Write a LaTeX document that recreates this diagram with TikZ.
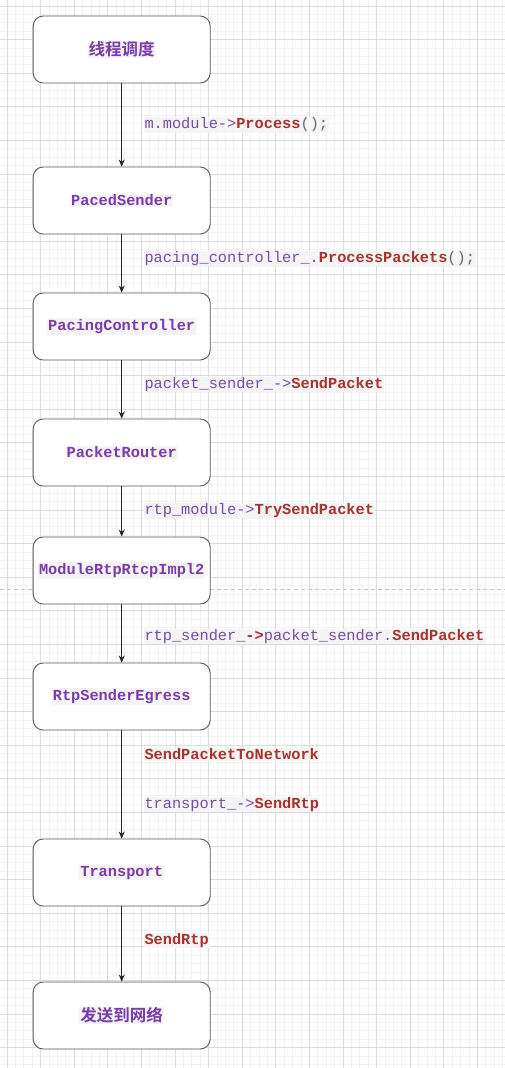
\documentclass[tikz,border=0pt]{standalone}
\usepackage{fontspec}
\setmonofont{Liberation Mono}
\newfontfamily\cjk{Noto Sans CJK SC}[BoldFont={Noto Sans CJK SC Bold}]
\usetikzlibrary{arrows.meta}
\definecolor{purp}{HTML}{7A4AA8}
\definecolor{npurp}{HTML}{7B3AAE}
\definecolor{mred}{HTML}{A8322D}
\definecolor{pgray}{HTML}{666A70}
\definecolor{hl}{HTML}{F4F4F4}
\definecolor{minorg}{HTML}{F2F2F2}
\definecolor{majorg}{HTML}{DCDCDC}
\definecolor{boxline}{HTML}{5A5A5A}
\setlength{\fboxsep}{1bp}
\newcommand{\fn}[1]{\textcolor{mred}{\bfseries #1}}
\newcommand{\pl}[1]{\textcolor{purp}{#1}}
\newcommand{\pg}[1]{\textcolor{pgray}{#1}}
\begin{document}
\begin{tikzpicture}[x=1bp,y=-1bp,
  stepbox/.style={draw=boxline,line width=0.9bp,rounded corners=10bp,fill=white,
    minimum width=177bp,minimum height=67bp,inner sep=0pt,
    text=npurp,font=\fontsize{15.3bp}{18bp}\ttfamily\bfseries},
  cjkbox/.style={stepbox,font=\fontsize{16.5bp}{19bp}\cjk\bfseries},
  elabel/.style={anchor=west,fill=hl,inner sep=0.8bp,font=\fontsize{15.3bp}{18bp}\ttfamily},
  conn/.style={draw=black!85,line width=0.9bp,-{Stealth[length=7bp,width=6bp]}}
]
\useasboundingbox (0,0) rectangle (505,1068);
\fill[white] (0,0) rectangle (505,1068);
% grid
\foreach \i in {0,...,60} {
  \pgfmathsetmacro\xx{7+8.4*(\i-1)}
  \draw[minorg,line width=0.8bp] (\xx,0) -- (\xx,1068);
}
\foreach \i in {0,...,128} {
  \pgfmathsetmacro\yy{6+8.4*(\i-1)}
  \draw[minorg,line width=0.8bp] (0,\yy) -- (505,\yy);
}
\foreach \i in {0,...,15} {
  \pgfmathsetmacro\xx{7+33.6*\i}
  \draw[majorg,line width=0.8bp] (\xx,0) -- (\xx,1068);
}
\foreach \i in {0,...,32} {
  \pgfmathsetmacro\yy{6+33.6*\i}
  \draw[majorg,line width=0.8bp] (0,\yy) -- (505,\yy);
}
% dashed separator
\draw[majorg!90!black,line width=0.8bp,dash pattern=on 4bp off 3bp] (0,589.5) -- (505,589.5);
% nodes
\node[cjkbox] (n1) at (121.7,49.5) {\colorbox{hl}{\textcolor{npurp}{线程调度}}};
\node[stepbox] (n2) at (121.7,200.5) {\colorbox{hl}{PacedSender}};
\node[stepbox] (n3) at (121.7,326.5) {\colorbox{hl}{PacingController}};
\node[stepbox] (n4) at (121.7,452.5) {\colorbox{hl}{PacketRouter}};
\node[stepbox] (n5) at (121.7,570.5) {\colorbox{hl}{ModuleRtpRtcpImpl2}};
\node[stepbox] (n6) at (121.7,696.5) {\colorbox{hl}{RtpSenderEgress}};
\node[stepbox] (n7) at (121.7,872.5) {\colorbox{hl}{Transport}};
\node[cjkbox] (n8) at (121.7,1015.5) {\colorbox{hl}{\textcolor{npurp}{发送到网络}}};
% connectors
\draw[conn] (n1.south) -- (n2.north);
\draw[conn] (n2.south) -- (n3.north);
\draw[conn] (n3.south) -- (n4.north);
\draw[conn] (n4.south) -- (n5.north);
\draw[conn] (n5.south) -- (n6.north);
\draw[conn] (n6.south) -- (n7.north);
\draw[conn] (n7.south) -- (n8.north);
% labels
\node[elabel] (l1) at (143.5,125) {\pl{m.module->}\fn{Process}\pg{();}};
\node[elabel] (l2) at (143.5,258.5) {\pl{pacing\_controller\_.}\fn{ProcessPackets}\pg{();}};
\node[elabel] (l3) at (143.5,384.5) {\pl{packet\_sender\_->}\fn{SendPacket}};
\node[elabel] (l4) at (143.5,510.5) {\pl{rtp\_module->}\fn{TrySendPacket}};
\node[elabel] (l5) at (143.5,636.5) {\pl{rtp\_sender\_}\fn{->}\pl{packet\_sender.}\fn{SendPacket}};
\node[elabel] (l6) at (143.5,754.5) {\fn{SendPacketToNetwork}};
\node[elabel] (l7) at (143.5,804.5) {\pl{transport\_->}\fn{SendRtp}};
\node[elabel] (l8) at (143.5,940.5) {\fn{SendRtp}};
\end{tikzpicture}
\end{document}
